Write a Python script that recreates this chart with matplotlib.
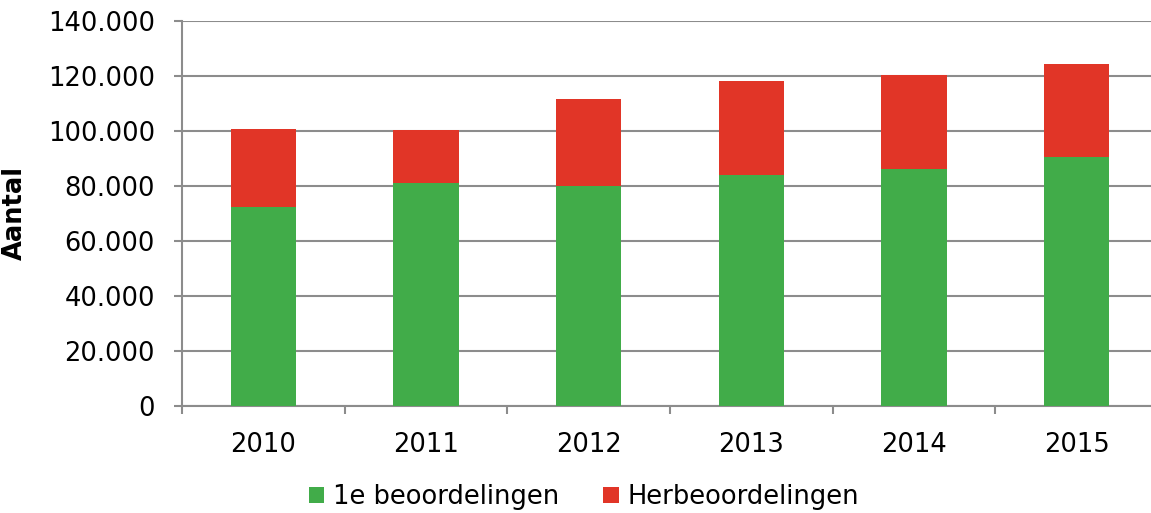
import matplotlib
matplotlib.use("Agg")
import matplotlib.pyplot as plt
from matplotlib.patches import Patch
from matplotlib.ticker import FuncFormatter, FixedLocator
import numpy as np

years = ["2010", "2011", "2012", "2013", "2014", "2015"]
eerste = [72300, 80900, 79800, 83900, 86100, 90300]
herbeoordelingen = [28300, 19300, 31600, 34100, 34000, 33800]
yticks = [0, 20000, 40000, 60000, 80000, 100000, 120000, 140000]

green = "#41AC49"
red = "#E13527"
grid = "#8C8C8C"

W, H = 1151, 513
fig = plt.figure(figsize=(W / 100, H / 100), dpi=100)
ax = fig.add_axes([182 / W, (H - 405.7) / H, 976 / W, 385 / H])

x = np.arange(len(years))
ax.bar(x, eerste, width=0.40, color=green, zorder=3)
ax.bar(x, herbeoordelingen, width=0.40, bottom=eerste, color=red, zorder=3)

ax.set_xlim(-0.5, len(years) - 0.5)
ax.set_ylim(0, 140000)
ax.set_yticks(yticks)
ax.yaxis.set_major_formatter(FuncFormatter(lambda v, p: f"{int(v):,}".replace(",", ".")))

ax.xaxis.set_major_locator(FixedLocator(np.arange(-0.5, len(years) + 0.5, 1)))
ax.xaxis.set_major_formatter(FuncFormatter(lambda v, p: ""))
ax.xaxis.set_minor_locator(FixedLocator(x))
ax.set_xticklabels(years, minor=True)

ax.tick_params(axis="x", which="major", length=6, width=1.5, color=grid, direction="out")
ax.tick_params(axis="x", which="minor", length=0, pad=19, labelsize=18.5)
ax.tick_params(axis="y", length=6, width=1.5, color=grid, direction="out", pad=13.5, labelsize=18.5)

ax.grid(axis="y", color=grid, linewidth=1.5, zorder=0)
for s in ["top", "right"]:
    ax.spines[s].set_visible(False)
for s in ["left", "bottom"]:
    ax.spines[s].set_color(grid)
    ax.spines[s].set_linewidth(1.5)

fig.text(15 / W, (H - 213) / H, "Aantal", rotation=90, fontsize=18.5, fontweight="bold",
         ha="center", va="center")

handles = [Patch(facecolor=green, edgecolor="none", label="1e beoordelingen"),
           Patch(facecolor=red, edgecolor="none", label="Herbeoordelingen")]
fig.legend(handles=handles, loc="center", bbox_to_anchor=(584 / W, (H - 497) / H), ncol=2,
           frameon=False, fontsize=18.5, handlelength=0.6, handleheight=0.6,
           handletextpad=0.35, columnspacing=1.7, borderpad=0)

fig.savefig("out.png", dpi=100)
